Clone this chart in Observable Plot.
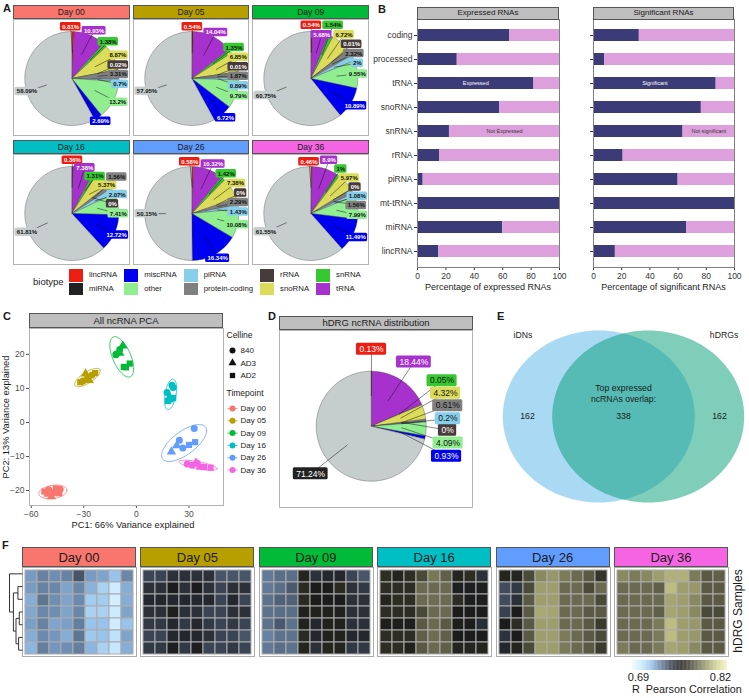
<!DOCTYPE html>
<html><head><meta charset="utf-8">
<script src="https://cdn.jsdelivr.net/npm/d3@7"></script>
<script src="https://cdn.jsdelivr.net/npm/@observablehq/plot@0.6"></script>
<style>
body{margin:0;background:#fff;font-family:"Liberation Sans",Arial,Helvetica,sans-serif;}
#fig{position:relative;width:749px;height:698px;overflow:hidden;background:#fff;}
#fig svg{overflow:visible;}
</style></head><body><div id="fig"></div><script>
// ================= DATA =================
// Panel A / D : pie order clockwise from 12 o'clock
const biotypes = ["lincRNA","tRNA","snRNA","snoRNA","rRNA","protein-coding","piRNA","other","miscRNA","miRNA"];
const legendBiotypes = ["lincRNA","miRNA","miscRNA","other","piRNA","protein-coding","rRNA","snoRNA","snRNA","tRNA"];
const days = ["Day 00","Day 05","Day 09","Day 16","Day 26","Day 36"];
const pctDay00 = [0.81,10.93,1.38,8.87,0.02,3.31,0.7,13.2,2.69,58.09];
const pctDay05 = [0.54,14.04,1.35,6.85,0.01,1.87,0.89,9.79,6.72,57.95];
const pctDay09 = [0.54,5.68,1.54,6.72,0.01,2.32,2,9.55,10.89,60.75];
const pctDay16 = [0.36,7.38,1.31,5.37,0,1.56,2.07,7.41,12.72,61.81];
const pctDay26 = [0.58,10.32,1.42,7.38,0,2.29,1.43,10.08,16.34,50.15];
const pctDay36 = [0.46,8.9,1,5.97,0,1.56,1.08,7.99,11.49,61.55];
const pctHDRG  = [0.13,18.44,0.05,4.32,0,0.61,0.2,4.09,0.93,71.24];

// Panel B
const rnaClasses = ["coding","processed","tRNA","snoRNA","snRNA","rRNA","piRNA","mt-tRNA","miRNA","lincRNA"];
const expressedPct = [65,28,82,58,22.5,15.5,4,100,60,15];
const significantPct = [32.5,8,87,76.5,63.5,21,60,100,66,15.5];

// Panel C
const pcaTimepoint = ["Day 00","Day 00","Day 00","Day 00","Day 00","Day 00","Day 00","Day 00",
  "Day 05","Day 05","Day 05","Day 05","Day 05","Day 05","Day 05",
  "Day 09","Day 09","Day 09","Day 09","Day 09","Day 09","Day 09","Day 09",
  "Day 16","Day 16","Day 16","Day 16","Day 16","Day 16","Day 16",
  "Day 26","Day 26","Day 26","Day 26","Day 26","Day 26","Day 26",
  "Day 36","Day 36","Day 36","Day 36","Day 36","Day 36","Day 36"];
const pcaCelline = ["840","840","840","AD3","AD3","AD2","AD2","AD2",
  "840","840","AD3","AD3","AD2","AD2","AD2",
  "840","840","840","AD3","AD3","AD2","AD2","AD2",
  "840","840","840","AD3","AD2","AD2","AD2",
  "840","840","840","AD3","AD3","AD2","AD2",
  "840","840","840","AD3","AD2","AD2","AD2"];
const pcaPC1 = [-50,-46.5,-43.5,-48.5,-50.5,-52.5,-46,-44,
  -30.5,-25.5,-29,-27,-32,-23.5,-28,
  -11.7,-9.5,-11.5,-7.8,-9.5,-7.2,-3.8,-6,
  17.5,20.3,21,19,18,21,19.5,
  33,24.5,26.5,20,23,33.5,30,
  29,34.7,31.8,34,38.5,42.3,36];
const pcaPC2 = [-19.8,-20.6,-19.6,-21.8,-21,-20.3,-19.4,-20.8,
  12.2,13.9,14.3,12.4,11.8,14.5,13.2,
  19.9,21.4,20.1,22.5,20.4,16.3,17.3,16.2,
  8.8,10.9,10.3,7.5,6.3,7.2,6.8,
  -1.8,-5.2,-7.5,-8.6,-6.8,-5.8,-6.6,
  -12.2,-12,-12.6,-11.8,-13.1,-13.3,-13];
const cellines = ["840","AD3","AD2"];

// Panel E
const vennSets = ["iDNs","hDRGs"];
const vennCounts = [162,338,162]; // only iDNs, overlap, only hDRGs

// Panel F (rows = hDRG samples, cols = samples of each timepoint)
const heatDay00 = [
 [.719,.725,.722,.725,.736,.719,.717,.71,.724],
 [.719,.725,.724,.717,.724,.714,.705,.693,.715],
 [.715,.728,.722,.717,.723,.707,.707,.691,.715],
 [.716,.724,.722,.717,.724,.705,.705,.694,.717],
 [.718,.725,.717,.718,.726,.71,.71,.693,.71],
 [.715,.723,.72,.715,.728,.708,.71,.698,.717],
 [.713,.726,.72,.722,.726,.713,.705,.696,.715]];
const heatDay05 = [
 [.74,.74,.747,.747,.747,.747,.736,.736,.736],
 [.747,.747,.757,.747,.757,.747,.74,.747,.747],
 [.75,.75,.75,.75,.75,.75,.74,.75,.74],
 [.747,.747,.758,.747,.747,.74,.74,.747,.747],
 [.744,.744,.75,.744,.75,.744,.74,.744,.74],
 [.74,.74,.75,.75,.75,.747,.74,.74,.736],
 [.744,.744,.756,.744,.756,.74,.74,.744,.74]];
const heatDay09 = [
 [.727,.73,.73,.762,.747,.75,.75,.74,.736],
 [.727,.73,.735,.765,.757,.757,.765,.747,.744],
 [.729,.733,.733,.765,.757,.757,.757,.747,.747],
 [.729,.73,.73,.76,.76,.76,.76,.747,.747],
 [.729,.735,.729,.76,.75,.76,.76,.747,.747],
 [.725,.729,.729,.765,.75,.76,.76,.75,.75],
 [.727,.73,.729,.762,.747,.762,.762,.744,.744]];
const heatDay16 = [
 [.766,.762,.766,.775,.789,.782,.762,.766,.747],
 [.766,.766,.766,.785,.785,.785,.755,.755,.755],
 [.762,.766,.766,.785,.786,.785,.766,.756,.756],
 [.766,.766,.766,.775,.785,.785,.757,.757,.757],
 [.758,.758,.758,.78,.785,.78,.758,.757,.748],
 [.766,.766,.766,.782,.786,.782,.757,.757,.757],
 [.766,.766,.76,.78,.785,.782,.762,.762,.762]];
const heatDay26 = [
 [.762,.762,.775,.794,.798,.79,.785,.78,.768],
 [.738,.744,.775,.8,.8,.785,.785,.775,.785],
 [.738,.747,.78,.8,.8,.785,.785,.785,.775],
 [.741,.757,.78,.803,.802,.785,.785,.78,.78],
 [.757,.766,.78,.8,.8,.785,.785,.78,.77],
 [.746,.757,.78,.8,.8,.79,.785,.78,.775],
 [.75,.762,.775,.8,.8,.79,.785,.78,.77]];
const heatDay36 = [
 [.794,.79,.794,.8,.805,.805,.79,.78,.782],
 [.785,.785,.785,.782,.809,.8,.798,.78,.78],
 [.785,.785,.785,.785,.802,.8,.794,.78,.78],
 [.785,.785,.785,.782,.802,.8,.794,.775,.775],
 [.785,.785,.785,.79,.809,.8,.798,.78,.78],
 [.785,.785,.785,.79,.809,.8,.798,.78,.78],
 [.79,.785,.785,.79,.802,.8,.794,.78,.78]];
const heatTicks = [0.69, 0.82];
// hclust-like merges of hDRG rows: [childA, childB, height]; negative = leaf row index
const dendroMerges = [[-2,-3,0.35],[-4,-5,0.25],[-6,-7,0.3],[2,3,0.5],[1,4,0.7],[-1,5,1.0]];

// ================= STYLE =================
const FONT = "'Liberation Sans', Arial, Helvetica, sans-serif";
const biotypeColors = {"lincRNA":"#EE1D12","miRNA":"#222222","miscRNA":"#0000F0","other":"#90EE90","piRNA":"#87CEEB",
  "protein-coding":"#808080","rRNA":"#473B3B","snoRNA":"#DCDC5A","snRNA":"#36C830","tRNA":"#A631CC"};
const darkText = new Set(["lincRNA","tRNA","miscRNA","rRNA","miRNA"]);
const bigSliceFill = "#C5CDCD";
const dayColors = ["#F8766D","#B79F00","#00BA38","#00BFC4","#619CFF","#F564E3"];
const heatStops = [0.680,0.695,0.710,0.720,0.730,0.740,0.750,0.757,0.765,0.775,0.785,0.795,0.805,0.815,0.830];
const heatColors = ["#F2FCFF","#C8EAFF","#98C4EC","#7496BE","#5A6E88","#3A4454","#24282E","#1C1C1C","#2A2A22","#4A4A38","#6A6A50","#8C8C62","#B0B078","#D0D090","#F2F0C0"];

// ================= HELPERS =================
const fig = document.getElementById("fig");
const ctx = document.createElement("canvas").getContext("2d");
function textW(t, size, weight="normal"){ ctx.font = `${weight} ${size}px ${FONT}`; return ctx.measureText(t).width; }
function put(node, left, top){ node.style.position="absolute"; node.style.left=left+"px"; node.style.top=top+"px"; fig.appendChild(node); return node; }
function box(left, top, w, h, css={}, text=null){
  const d=document.createElement("div");
  Object.assign(d.style,{position:"absolute",left:left+"px",top:top+"px",width:w+"px",height:h+"px",boxSizing:"border-box"},css);
  if(text!=null) d.textContent=text;
  fig.appendChild(d); return d;
}
function txt(t, x, y, size, css={}, anchor="middle"){
  const d=document.createElement("div");
  const tx = anchor==="middle"?"-50%":anchor==="end"?"-100%":"0";
  Object.assign(d.style,{position:"absolute",left:x+"px",top:y+"px",fontSize:size+"px",whiteSpace:"nowrap",lineHeight:"1",color:"#1a1a1a",transform:`translate(${tx},-50%)`},css);
  d.textContent=t; fig.appendChild(d); return d;
}
function strip(x,y,w,h,fill,t,size){
  box(x,y,w,h,{background:fill,border:"1px solid #555",display:"flex",alignItems:"center",justifyContent:"center",fontSize:size+"px",color:"#1a1a1a",lineHeight:"1"},t);
}

function repel(labels, W, H, iters=400){
  for(let it=0; it<iters; it++){
    for(let i=0;i<labels.length;i++) for(let j=i+1;j<labels.length;j++){
      const a=labels[i], b=labels[j];
      const ox=(a.w+b.w)/2+1.2-Math.abs(a.x-b.x);
      const oy=(a.h+b.h)/2+1.2-Math.abs(a.y-b.y);
      if(ox>0&&oy>0){
        if(ox<oy){ const s=a.x<b.x?-1:1; a.x+=s*ox/2; b.x-=s*ox/2; }
        else { const s=a.y<b.y?-1:1; a.y+=s*oy/2; b.y-=s*oy/2; }
      }
    }
    for(const l of labels){
      l.x+=(l.x0-l.x)*0.02; l.y+=(l.y0-l.y)*0.02;
      l.x=Math.max(l.w/2+1.5,Math.min(W-l.w/2-1.5,l.x));
      l.y=Math.max(l.h/2+1.5,Math.min(H-l.h/2-1.5,l.y));
    }
  }
}

function pie(values, o){
  const {W,H,cx,cy,R,fontSize,weight,padX,boxH,startR,bigLabelFill} = o;
  const total=d3.sum(values); let cum=0;
  const slices=biotypes.map((b,i)=>{const a0=cum/total*2*Math.PI; cum+=values[i]; const a1=cum/total*2*Math.PI; return {b,v:values[i],a0,a1,mid:(a0+a1)/2};});
  const sliceFill = b => b==="miRNA"?bigSliceFill:biotypeColors[b];
  const labelFill = b => b==="miRNA"?bigLabelFill:biotypeColors[b];
  const labelInk = b => (b==="miRNA" ? (bigLabelFill===bigSliceFill?"#111":"#fff") : (darkText.has(b)?"#fff":"#111"));
  const marks=[];
  for(const s of slices){
    if(s.a1-s.a0<=0) continue;
    const n=Math.max(2,Math.ceil((s.a1-s.a0)/(Math.PI/120)));
    const pts=[{x:0,y:0}];
    for(let k=0;k<=n;k++){const a=s.a0+(s.a1-s.a0)*k/n; pts.push({x:Math.sin(a),y:-Math.cos(a)});}
    pts.push({x:0,y:0});
    marks.push(Plot.line(pts,{x:"x",y:"y",fill:sliceFill(s.b),stroke:"#3a3a3a",strokeWidth:0.35}));
  }
  const labs=slices.map(s=>{
    const text=s.v+"%"; const w=textW(text,fontSize,weight)+padX*2;
    const x0=cx+startR*R*Math.sin(s.mid), y0=cy-startR*R*Math.cos(s.mid);
    return {b:s.b,text,w,h:boxH,x:x0,y:y0,x0,y0,ax:cx+0.55*R*Math.sin(s.mid),ay:cy-0.55*R*Math.cos(s.mid)};
  });
  repel(labs,W,H);
  const toX=px=>(px-cx)/R, toY=py=>(py-cy)/R;
  marks.push(Plot.link(labs,{x1:d=>toX(d.ax),y1:d=>toY(d.ay),x2:d=>toX(d.x),y2:d=>toY(d.y),stroke:"#111",strokeWidth:0.5}));
  marks.push(Plot.rect(labs,{x1:d=>toX(d.x-d.w/2),x2:d=>toX(d.x+d.w/2),y1:d=>toY(d.y-d.h/2),y2:d=>toY(d.y+d.h/2),fill:d=>labelFill(d.b),rx:1.5}));
  marks.push(Plot.text(labs,{x:d=>toX(d.x),y:d=>toY(d.y),text:"text",fill:d=>labelInk(d.b),fontSize,fontWeight:weight}));
  return Plot.plot({width:W,height:H,margin:0,
    x:{domain:[toX(0),toX(W)],range:[0,W],axis:null},
    y:{domain:[toY(0),toY(H)],range:[0,H],axis:null},
    style:{fontFamily:FONT,background:"transparent",overflow:"visible"},marks});
}

// ================= PANEL LETTERS =================
const letterCss={fontWeight:"bold"};
txt("A",3,8,11,letterCss,"start");
txt("B",378,9,11,letterCss,"start");
txt("C",3,316,11,letterCss,"start");
txt("D",268,316,11,letterCss,"start");
txt("E",497,316,11,letterCss,"start");
txt("F",2,545,11,letterCss,"start");

// ================= PANEL A =================
const pieData=[pctDay00,pctDay05,pctDay09,pctDay16,pctDay26,pctDay36];
const aCols=[13,132.7,252.4], aW=116.6;
const aRows=[{strip:5,top:19,h:117},{strip:140,top:154,h:111}];
days.forEach((d,i)=>{
  const x=aCols[i%3], r=aRows[Math.floor(i/3)];
  box(x,r.top,aW,r.h,{border:"1px solid #B3B3B3"});
  put(pie(pieData[i],{W:aW,H:r.h,cx:aW/2,cy:59,R:47,fontSize:6,weight:"bold",padX:1.8,boxH:8.5,startR:1.1,bigLabelFill:bigSliceFill}),x,r.top);
  strip(x,r.strip,aW,14,dayColors[i],d,8.5);
});
// legend A
txt("biotype",33,282,9.5,{},"start");
{
  let kx=69; const kw=14,kh=12.5, ky=[269,282.5];
  for(let c=0;c<5;c++){
    const items=legendBiotypes.slice(c*2,c*2+2);
    items.forEach((b,r)=>{
      box(kx,ky[r],kw,kh,{background:biotypeColors[b]});
      txt(b,kx+kw+6,ky[r]+kh/2,7.8,{},"start");
    });
    kx+=kw+6+d3.max(items,b=>textW(b,7.8))+7;
  }
}

// ================= PANEL B =================
function barPlot(pcts, showLabels, W, mL, annos){
  const rows=rnaClasses.flatMap((c,i)=>[{cls:c,part:"yes",x1:0,x2:pcts[i]},{cls:c,part:"no",x1:pcts[i],x2:100}]);
  const ann=annos.map(a=>{const i=rnaClasses.indexOf(a.cls); const v=pcts[i]; return {...a, x: a.part==="yes"? v/2 : (v+100)/2};});
  return Plot.plot({width:W,height:276,marginLeft:mL,marginRight:8,marginTop:0,marginBottom:28,
    style:{fontFamily:FONT,fontSize:"8.5px",color:"#333",background:"transparent",overflow:"visible"},
    x:{domain:[0,100],ticks:[0,20,40,60,80,100],tickSize:3,tickPadding:2,label:null},
    y:{domain:rnaClasses,paddingInner:0.5,paddingOuter:0.35,tickSize:3,tickPadding:2,label:null,tickFormat:showLabels?(d=>d):(()=>"")},
    color:{domain:["yes","no"],range:["#3B3B78","#DDA0DD"]},
    marks:[
      Plot.barX(rows,{y:"cls",x1:"x1",x2:"x2",fill:"part"}),
      Plot.text(ann,{x:"x",y:"cls",text:"label",fill:d=>d.part==="yes"?"#fff":"#333",fontSize:5.5}),
      Plot.frame({stroke:"#7f7f7f"})
    ]});
}
put(barPlot(expressedPct,true,207,57,[{cls:"tRNA",part:"yes",label:"Expressed"},{cls:"snRNA",part:"no",label:"Not Expressed"}]),360,19);
put(barPlot(significantPct,false,155,6,[{cls:"tRNA",part:"yes",label:"Significant"},{cls:"snRNA",part:"no",label:"Not significant"}]),587,19);
strip(417,7,142,12.5,"#BEBEBE","Expressed RNAs",8);
strip(593,7,141,12.5,"#BEBEBE","Significant RNAs",8);
txt("Percentage of expressed RNAs",488,287,9);
txt("Percentage of significant RNAs",663.5,287,9);

// ================= PANEL C =================
{
  const pts=pcaPC1.map((x,i)=>({x,y:pcaPC2[i],day:pcaTimepoint[i],cell:pcaCelline[i]}));
  const ell=[];
  for(const d of days){
    const g=pts.filter(p=>p.day===d), n=g.length;
    const mx=d3.mean(g,p=>p.x), my=d3.mean(g,p=>p.y);
    let sxx=0,syy=0,sxy=0; for(const p of g){sxx+=(p.x-mx)**2;syy+=(p.y-my)**2;sxy+=(p.x-mx)*(p.y-my);}
    sxx/=n-1; syy/=n-1; sxy/=n-1;
    const a=Math.sqrt(sxx), b=sxy/a, c=Math.sqrt(Math.max(1e-9,syy-b*b)), k=2.5;
    for(let i=0;i<=100;i++){const t=i/100*2*Math.PI, u=Math.cos(t)*k, v=Math.sin(t)*k; ell.push({day:d,x:mx+a*u,y:my+b*u+c*v});}
  }
  const p=Plot.plot({width:225,height:195,marginLeft:29,marginRight:2,marginTop:0,marginBottom:18,
    style:{fontFamily:FONT,fontSize:"8.5px",color:"#4D4D4D",background:"transparent",overflow:"visible"},
    x:{domain:[-61,49.7],ticks:[-60,-30,0,30],tickSize:3,tickPadding:2,label:null},
    y:{domain:[-24.4,27.6],ticks:[-20,-10,0,10,20],tickSize:3,tickPadding:2,label:null},
    color:{domain:days,range:dayColors},
    symbol:{domain:cellines,range:["circle","triangle","square"]},
    marks:[
      Plot.line(ell,{x:"x",y:"y",z:"day",stroke:"day",strokeWidth:0.8}),
      Plot.dot(pts,{x:"x",y:"y",fill:"day",symbol:"cell",r:3.5,stroke:"none"}),
      Plot.frame({stroke:"#B3B3B3"})
    ]});
  put(p,0,328);
  strip(29,313,194,15,"#BEBEBE","All ncRNA PCA",9.5);
  txt("PC1: 66% Variance explained",133,526,9.3);
  txt("PC2: 13% Variance explained",7,417,9.3,{transform:"translate(-50%,-50%) rotate(-90deg)"});
  // legend
  const rowsL=[]; let y=7;
  rowsL.push({kind:"title",text:"Celline",y}); y+=15;
  cellines.forEach(c=>{rowsL.push({kind:"cell",text:c,y,key:c}); y+=12.5;});
  y+=5.5; rowsL.push({kind:"title",text:"Timepoint",y}); y+=15;
  days.forEach(d=>{rowsL.push({kind:"day",text:d,y,key:d}); y+=12.3;});
  const lg=Plot.plot({width:50,height:150,margin:0,
    x:{domain:[0,50],range:[0,50],axis:null},y:{domain:[0,150],range:[0,150],axis:null},
    color:{domain:days,range:dayColors},symbol:{domain:cellines,range:["circle","triangle","square"]},
    style:{fontFamily:FONT,background:"transparent",overflow:"visible"},
    marks:[
      Plot.text(rowsL.filter(r=>r.kind==="title"),{x:2,y:"y",text:"text",textAnchor:"start",fontSize:8.5,fill:"#1a1a1a"}),
      Plot.link(rowsL.filter(r=>r.kind==="day"),{x1:3,x2:13,y1:"y",y2:"y",stroke:"key",strokeWidth:0.8}),
      Plot.dot(rowsL.filter(r=>r.kind==="cell"),{x:8,y:"y",symbol:"key",fill:"#111",r:3}),
      Plot.dot(rowsL.filter(r=>r.kind==="day"),{x:8,y:"y",fill:"key",r:3}),
      Plot.text(rowsL.filter(r=>r.kind!=="title"),{x:16,y:"y",text:"text",textAnchor:"start",fontSize:8,fill:"#1a1a1a"})
    ]});
  put(lg,224,328);
}

// ================= PANEL D =================
box(279,330,194,178,{border:"1px solid #B3B3B3"});
put(pie(pctHDRG,{W:194,H:178,cx:91.7,cy:95.7,R:55,fontSize:8.5,weight:"normal",padX:3,boxH:12,startR:1.4,bigLabelFill:"#222222"}),279,330);
strip(279,316,194,14,"#BEBEBE","hDRG ncRNA distribution",9.5);

// ================= PANEL E =================
{
  // area-proportional separation of two equal circles (r=1) with overlap fraction
  const frac=vennCounts[1]/(vennCounts[0]+vennCounts[1]);
  const ov=d=>(2*Math.acos(d/2)-(d/2)*Math.sqrt(4-d*d))/Math.PI;
  let lo=0,hi=2; for(let i=0;i<60;i++){const m=(lo+hi)/2; if(ov(m)>frac) lo=m; else hi=m;}
  const d=(lo+hi)/2;
  const circ=[];
  [-d/2,d/2].forEach((c,k)=>{for(let i=0;i<=120;i++){const t=i/120*2*Math.PI; circ.push({set:vennSets[k],x:c+Math.cos(t),y:Math.sin(t)});}});
  const W=259,H=190,cx=133,cy=96,sx=96,sy=86;
  const catAng=40*Math.PI/180, catR=1.23;
  const texts=[
    {x:-1,y:0,t:String(vennCounts[0])},{x:0,y:0,t:String(vennCounts[1])},{x:1,y:0,t:String(vennCounts[2])},
    {x:0,y:-0.33,t:"Top expressed"},{x:0,y:-0.2,t:"ncRNAs overlap:"},
    {x:-d/2-catR*Math.sin(catAng),y:-catR*Math.cos(catAng),t:vennSets[0]},
    {x:d/2+catR*Math.sin(catAng),y:-catR*Math.cos(catAng),t:vennSets[1]}];
  const p=Plot.plot({width:W,height:H,margin:0,
    x:{domain:[-cx/sx,(W-cx)/sx],range:[0,W],axis:null},
    y:{domain:[-cy/sy,(H-cy)/sy],range:[0,H],axis:null},
    style:{fontFamily:FONT,background:"transparent",overflow:"visible"},
    marks:[
      Plot.line(circ.filter(c=>c.set==="iDNs"),{x:"x",y:"y",fill:"#56B4E9",fillOpacity:0.5,stroke:"none"}),
      Plot.line(circ.filter(c=>c.set==="hDRGs"),{x:"x",y:"y",fill:"#009E73",fillOpacity:0.5,stroke:"none"}),
      Plot.text(texts,{x:"x",y:"y",text:"t",fontSize:8.7,fill:"#1a1a1a"})
    ]});
  put(p,490,320);
}

// ================= PANEL F =================
{
  const heats=[heatDay00,heatDay05,heatDay09,heatDay16,heatDay26,heatDay36];
  const colorOpt={type:"linear",domain:heatStops,range:heatColors};
  heats.forEach((vals,i)=>{
    const x0=22+i*118.4;
    const cells=vals.flatMap((row,r)=>row.map((v,c)=>({r,c,v})));
    const p=Plot.plot({width:114,height:89,margin:0,
      x:{type:"band",domain:d3.range(9),padding:0,axis:null},
      y:{type:"band",domain:d3.range(7),padding:0,axis:null},
      color:colorOpt,style:{background:"transparent",overflow:"visible"},
      marks:[Plot.cell(cells,{x:"c",y:"r",fill:"v",stroke:"#ABABAB",strokeWidth:1}),Plot.frame({stroke:"#ABABAB"})]});
    put(p,x0,567);
    strip(x0,547,114,20,dayColors[i],days[i],13);
  });
  // dendrogram
  const nodes=[];
  const pos=id=>id<0?{y:-id-1,h:0}:nodes[id-1];
  const segs=[];
  dendroMerges.forEach(([a,b,h])=>{
    const A=pos(a),B=pos(b);
    segs.push({x1:A.h,x2:h,y1:A.y,y2:A.y},{x1:B.h,x2:h,y1:B.y,y2:B.y},{x1:h,x2:h,y1:A.y,y2:B.y});
    nodes.push({y:(A.y+B.y)/2,h});
  });
  const dg=Plot.plot({width:13,height:89,margin:0,
    x:{domain:[1,0],range:[0,13],axis:null},y:{domain:[-0.5,6.5],range:[0,89],axis:null},
    style:{background:"transparent",overflow:"visible"},
    marks:[Plot.link(segs,{x1:"x1",x2:"x2",y1:"y1",y2:"y2",stroke:"#333",strokeWidth:1})]});
  put(dg,9,567);
  txt("hDRG Samples",738,611,12,{transform:"translate(-50%,-50%) rotate(-90deg)"});
  // colorbar
  const lo=0.6805, hi=0.8311, N=120;
  const ramp=d3.range(N).map(i=>({x1:lo+i*(hi-lo)/N,x2:lo+(i+1)*(hi-lo)/N}));
  const cb=Plot.plot({width:101,height:26,marginLeft:3,marginRight:3,marginTop:0,marginBottom:16,
    style:{fontFamily:FONT,fontSize:"11px",color:"#1a1a1a",background:"transparent",overflow:"visible"},
    x:{domain:[lo,hi],ticks:heatTicks,tickFormat:d3.format(".2f"),tickSize:0,tickPadding:3,label:null},
    color:colorOpt,
    marks:[Plot.rect(ramp,{x1:"x1",x2:"x2",fill:d=>(d.x1+d.x2)/2})]});
  put(cb,629,660);
  txt("R  Pearson Correlation",632,689,10.8,{whiteSpace:"pre"},"start");
}
</script></body></html>
